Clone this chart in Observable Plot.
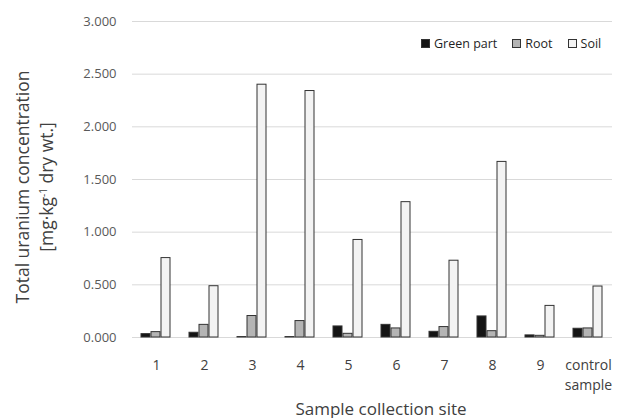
<!DOCTYPE html>
<html>
<head>
<meta charset="utf-8">
<script src="https://cdn.jsdelivr.net/npm/d3@7"></script>
<script src="https://cdn.jsdelivr.net/npm/@observablehq/plot@0.6"></script>
<style>
  html, body { margin: 0; padding: 0; background: #fff; }
  #chart { position: relative; width: 627px; height: 418px; font-family: "Open Sans", sans-serif; }
  #chart svg { display: block; }
  .ytitle {
    position: absolute; left: 34px; top: 187px;
    transform: translate(-50%, -50%) rotate(-90deg);
    text-align: center; white-space: nowrap;
    font-size: 17.5px; line-height: 24px; color: #404040;
  }
  .ytitle sup { font-size: 10px; vertical-align: 6px; line-height: 0; }
  .xtitle {
    position: absolute; left: 381px; top: 408px;
    transform: translate(-50%, -50%);
    white-space: nowrap; font-size: 17px; color: #404040;
  }
  .legend {
    position: absolute; top: 35px; left: 421px;
    display: flex; align-items: center; font-size: 12.5px; color: #1f1f1f; white-space: nowrap;
  }
  .legend .sw { display: inline-block; width: 7px; height: 7px; border: 1px solid #333; margin-right: 4px; }
  .legend .item { display: flex; align-items: center; margin-right: 15px; }
</style>
</head>
<body>
<div id="chart"></div>
<script>
// Sampling sites along the x axis
const sites = ["1", "2", "3", "4", "5", "6", "7", "8", "9", "control sample"];
// Plant / soil fractions shown for each site
const parts = ["Green part", "Root", "Soil"];
// Total uranium concentration, mg·kg-1 dry wt.
const greenPart = [0.032, 0.045, 0.004, 0.004, 0.105, 0.12, 0.054, 0.20, 0.02, 0.083];
const root      = [0.051, 0.12, 0.204, 0.156, 0.035, 0.086, 0.099, 0.06, 0.016, 0.086];
const soil      = [0.754, 0.487, 2.40, 2.34, 0.926, 1.285, 0.729, 1.667, 0.30, 0.484];
// Value axis ticks
const yTicks = [0, 0.5, 1, 1.5, 2, 2.5, 3];

const partColors = ["#141414", "#b4b4b4", "#f3f3f3"];

const rows = sites.flatMap((site, i) => [
  {site, part: parts[0], value: greenPart[i]},
  {site, part: parts[1], value: root[i]},
  {site, part: parts[2], value: soil[i]}
]);

const fmt = d3.format(".3f");

const plot = Plot.plot({
  width: 627,
  height: 418,
  marginLeft: 128,
  marginRight: 12,
  marginTop: 21,
  marginBottom: 81,
  style: {fontFamily: "'Open Sans', sans-serif", fontSize: "13px", color: "#595959", background: "#fff"},
  fx: {domain: sites, padding: 0, label: null},
  x: {domain: parts, axis: null, paddingInner: 0.09, paddingOuter: 0.82},
  y: {domain: [0, 3], label: null},
  color: {domain: parts, range: partColors},
  marks: [
    Plot.gridY(yTicks, {stroke: "#d9d9d9", strokeOpacity: 1, strokeWidth: 1}),
    Plot.axisY(yTicks, {tickSize: 0, tickPadding: 16, tickFormat: fmt, label: null, fontSize: 13, fill: "#595959"}),
    Plot.axisFx({
      anchor: "bottom",
      tickSize: 0, tickPadding: 18, label: null, fontSize: 14, lineHeight: 1.43, fill: "#404040",
      tickFormat: d => d.replace(" ", "\n")
    }),
    Plot.barY(rows, {fx: "site", x: "part", y: "value", fill: "part", stroke: "#333", strokeWidth: 1})
  ]
});

const chart = document.getElementById("chart");
chart.appendChild(plot);

const yTitle = document.createElement("div");
yTitle.className = "ytitle";
yTitle.innerHTML = "Total uranium concentration<br>[mg·kg<sup>-1</sup> dry wt.]";
chart.appendChild(yTitle);

const xTitle = document.createElement("div");
xTitle.className = "xtitle";
xTitle.textContent = "Sample collection site";
chart.appendChild(xTitle);

const legend = document.createElement("div");
legend.className = "legend";
parts.forEach((p, i) => {
  const item = document.createElement("span");
  item.className = "item";
  const sw = document.createElement("span");
  sw.className = "sw";
  sw.style.background = partColors[i];
  item.appendChild(sw);
  item.appendChild(document.createTextNode(p));
  legend.appendChild(item);
});
chart.appendChild(legend);
</script>
</body>
</html>
